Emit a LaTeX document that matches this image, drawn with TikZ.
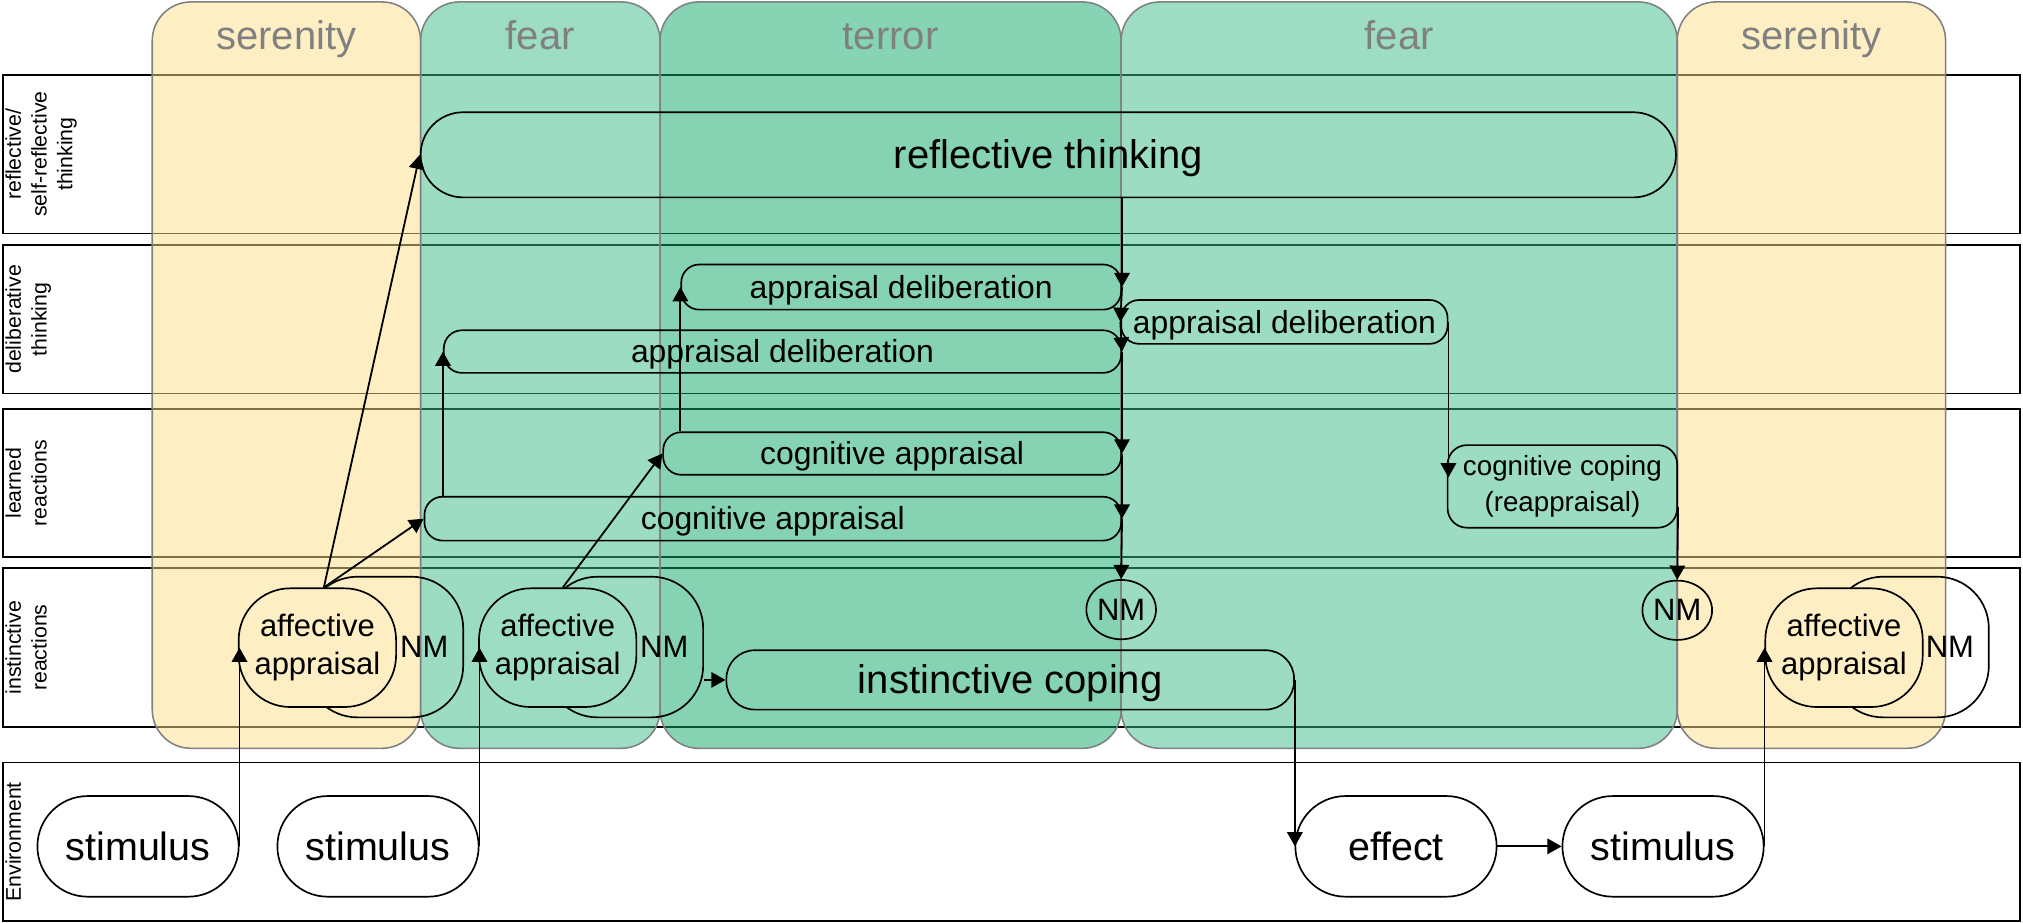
\documentclass[tikz,border=0pt]{standalone}
\usepackage{fontspec}
\setmainfont{Liberation Sans}
\usetikzlibrary{arrows.meta,shapes.geometric}
\definecolor{yelC}{RGB}{253,222,138}
\definecolor{fearC}{RGB}{57,187,137}
\definecolor{terrC}{RGB}{15,169,105}
\definecolor{yelO}{RGB}{254,238,196}
\definecolor{fearO}{RGB}{156,221,196}
\definecolor{colBorder}{RGB}{128,128,128}
\definecolor{titleGray}{RGB}{128,128,128}
\tikzset{
  lane/.style={draw=black, line width=1.5pt, fill=white, inner sep=0pt},
  lanelabel/.style={rotate=90, anchor=north, align=center, inner sep=0pt,
    font=\fontsize{16.5}{20}\selectfont},
  emocol/.style={draw=colBorder, line width=1.2pt, rounded corners=30pt, fill opacity=0.5, inner sep=0pt},
  coltitle/.style={text=titleGray, inner sep=0pt, text height=28pt, text depth=6.6pt,
    font=\fontsize{31}{37}\selectfont},
  box/.style={draw=black, line width=1.3pt, inner sep=0pt, rounded corners=14pt,
    text height=22.4pt, text depth=5.2pt, font=\fontsize{24.7}{29.6}\selectfont},
  bigbox/.style={draw=black, line width=1.3pt, inner sep=0pt,
    text height=28pt, text depth=6.6pt, font=\fontsize{31}{37}\selectfont},
  envbox/.style={draw=black, line width=1.3pt, inner sep=0pt, rounded corners=39pt,
    minimum width=156pt, minimum height=78pt,
    text height=27.7pt, text depth=6.5pt, font=\fontsize{30.6}{36.7}\selectfont},
  affront/.style={draw=black, line width=1.3pt, inner sep=0pt, rounded corners=40pt,
    minimum width=122pt, minimum height=92pt, align=center,
    font=\fontsize{24}{29}\selectfont},
  afback/.style={draw=black, line width=1.3pt, rounded corners=40pt,
    minimum width=122pt, minimum height=109pt, inner ysep=0pt, inner xsep=11pt,
    text width=99pt, align=right, font=\fontsize{24}{29}\selectfont},
  nmcirc/.style={draw=black, line width=1.3pt, ellipse, inner sep=0pt,
    minimum width=54pt, minimum height=46pt, font=\fontsize{24}{29}\selectfont},
  arr/.style={line width=1.4pt, -{Triangle[length=11pt,width=12pt]}},
}
\begin{document}
\begin{tikzpicture}[x=1pt,y=-1pt]
\useasboundingbox (0,0) rectangle (1568,715);

% lanes
\node[lane, minimum width=1564pt, minimum height=123pt] (lane1) at (784,119.5) {};
\node[lane, minimum width=1564pt, minimum height=115pt] (lane2) at (784,247.5) {};
\node[lane, minimum width=1564pt, minimum height=115pt] (lane3) at (784,374.5) {};
\node[lane, minimum width=1564pt, minimum height=123pt] (lane4) at (784,502) {};
\node[lane, minimum width=1564pt, minimum height=123pt] (lane5) at (784,652.5) {};

\node[lanelabel] (lab1) at (4,119.5) {reflective/\\self-reflective\\thinking};
\node[lanelabel] (lab2) at (4,247.5) {deliberative\\thinking};
\node[lanelabel] (lab3) at (4,374.5) {learned\\reactions};
\node[lanelabel] (lab4) at (4,502) {instinctive\\reactions};
\node[lanelabel] (lab5) at (4,652.5) {Environment};

% emotion columns
\node[emocol, fill=yelC, minimum width=208pt, minimum height=578.5pt] (col1) at (222,290.75) {};
\node[emocol, fill=fearC, minimum width=185.6pt, minimum height=578.5pt] (col2) at (418.8,290.75) {};
\node[emocol, fill=terrC, minimum width=357.4pt, minimum height=578.5pt] (col3) at (690.3,290.75) {};
\node[emocol, fill=fearC, minimum width=431pt, minimum height=578.5pt] (col4) at (1084.5,290.75) {};
\node[emocol, fill=yelC, minimum width=208pt, minimum height=578.5pt] (col5) at (1404,290.75) {};

\node[coltitle] (t1) at (222,28) {serenity};
\node[coltitle] (t2) at (418.8,28) {fear};
\node[coltitle] (t3) at (690.3,28) {terror};
\node[coltitle] (t4) at (1084.5,28) {fear};
\node[coltitle] (t5) at (1404,28) {serenity};

% process nodes
\node[bigbox, rounded corners=33pt, minimum width=973pt, minimum height=66pt] (refl) at (812.5,120) {reflective thinking};
\node[box, minimum width=341pt, minimum height=35pt] (adA) at (698.5,222.5) {appraisal deliberation};
\node[box, minimum width=253pt, minimum height=34pt] (adC) at (995.5,249.5) {appraisal deliberation};
\node[box, minimum width=525pt, minimum height=33pt] (adB) at (606.5,272.5) {appraisal deliberation};
\node[box, minimum width=355pt, minimum height=33pt] (caA) at (691.5,351.5) {cognitive appraisal};
\node[box, minimum width=540pt, minimum height=34pt] (caB) at (599,402) {cognitive appraisal};
\node[draw=black, line width=1.3pt, inner sep=0pt, rounded corners=15pt, minimum width=178pt,
  minimum height=64pt, align=center, font=\fontsize{21.5}{27.5}\selectfont] (cope) at (1211,377) {cognitive coping\\(reappraisal)};
\node[nmcirc] (nm1) at (869,472.5) {NM};
\node[nmcirc] (nm2) at (1300,473) {NM};
\node[bigbox, rounded corners=22pt, minimum width=440pt, minimum height=46pt] (inst) at (783,527) {instinctive coping};

\node[afback] (af1b) at (298,501.5) {NM};
\node[affront, fill=yelO] (af1) at (246,502) {affective\\appraisal};
\node[afback] (af2b) at (484,501.5) {NM};
\node[affront, fill=fearO] (af2) at (432.25,502) {affective\\appraisal};
\node[afback] (af3b) at (1480.5,501.5) {NM};
\node[affront, fill=yelO] (af3) at (1429.25,502) {affective\\appraisal};

\node[envbox] (s1) at (107,656) {stimulus};
\node[envbox] (s2) at (293,656) {stimulus};
\node[envbox] (eff) at (1082,656) {effect};
\node[envbox] (s3) at (1289,656) {stimulus};

% connectors
\draw[arr] (s1.east) -- (s1.east |- af1.west);
\draw[arr] (s2.east) -- (s2.east |- af2.west);
\draw[arr] (s3.east) -- (s3.east |- af3.west);
\draw[arr] ([xshift=5pt]af1.north) -- (refl.west);
\draw[arr] ([xshift=5pt]af1.north) -- (caB.west);
\draw[arr] ([xshift=4pt]af2.north) -- (caA.west);
\draw[arr] (caB.north -| adB.west) -- (adB.west);
\draw[arr] (caA.north -| adA.west) -- (adA.west);
\draw[arr] (af2b.east |- inst.west) -- (inst.west);
\draw[arr] (refl.south -| adA.east) -- (adA.east);
\draw[arr] (adA.east) -- (adC.west);
\draw[arr] (adC.west) -- (adB.east);
\draw[arr] (adB.east) -- (caA.east);
\draw[arr] (caA.east) -- (caB.east);
\draw[arr] (caB.east) -- (nm1.north);
\coordinate (copeIn) at ([yshift=7pt]cope.west);
\draw[arr] (adC.east) -- (adC.east |- copeIn);
\draw[arr] ([yshift=-16pt]cope.east) -- (nm2.north);
\draw[arr] (inst.east) -- (inst.east |- eff.west);
\draw[arr] (eff.east) -- (s3.west);
\end{tikzpicture}
\end{document}
